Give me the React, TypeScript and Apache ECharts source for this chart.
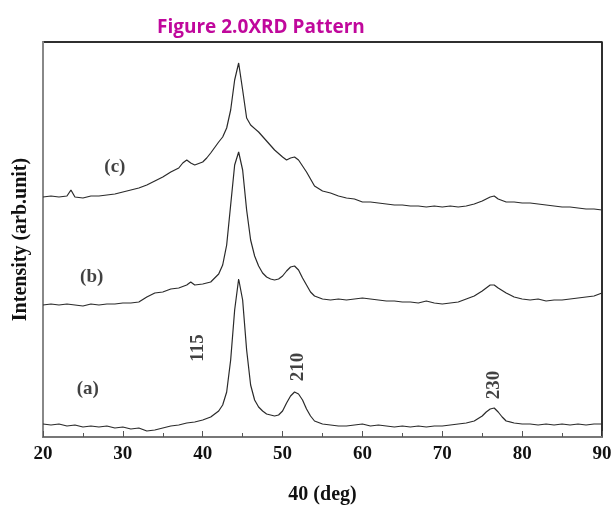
import React, { useEffect, useRef } from "react";
import * as echarts from "echarts";

const xTicks = [20, 30, 40, 50, 60, 70, 80, 90];

const seriesA: [number, number][] = [
  [20, 13], [21, 12], [22, 13], [23, 11], [24, 12], [25, 10], [26, 11], [27, 10], [28, 11], [29, 9],
  [30, 10], [31, 8], [32, 9], [33, 6], [34, 7], [35, 9], [36, 11], [37, 12], [38, 14], [39, 15],
  [40, 17], [41, 20], [42, 26], [42.5, 32], [43, 45], [43.5, 77], [44, 127], [44.5, 158], [45, 137],
  [45.5, 87], [46, 52], [46.5, 37], [47, 30], [47.5, 26], [48, 23], [48.5, 22], [49, 21], [49.5, 22],
  [50, 26], [50.5, 34], [51, 41], [51.5, 45], [52, 43], [52.5, 37], [53, 28], [53.5, 21], [54, 16],
  [55, 13], [56, 12], [57, 11], [58, 11], [59, 12], [60, 13], [61, 11], [62, 12], [63, 11], [64, 10],
  [65, 11], [66, 10], [67, 11], [68, 10], [69, 11], [70, 11], [71, 12], [72, 13], [73, 14], [74, 16],
  [75, 21], [75.5, 25], [76, 28], [76.5, 29], [77, 25], [77.5, 20], [78, 16], [79, 14], [80, 13],
  [81, 13], [82, 12], [83, 13], [84, 12], [85, 13], [86, 12], [87, 13], [88, 12], [89, 13], [90, 13],
];

const seriesB: [number, number][] = [
  [20, 132], [21, 133], [22, 132], [23, 133], [24, 132], [25, 131], [26, 133], [27, 132], [28, 133],
  [29, 133], [30, 134], [31, 134], [32, 135], [33, 140], [34, 144], [35, 145], [36, 148], [37, 149],
  [38, 152], [38.5, 155], [39, 152], [40, 153], [41, 155], [42, 163], [42.5, 172], [43, 192],
  [43.5, 232], [44, 272], [44.5, 285], [45, 267], [45.5, 227], [46, 197], [46.5, 181], [47, 171],
  [47.5, 164], [48, 160], [48.5, 158], [49, 157], [49.5, 158], [50, 161], [50.5, 166], [51, 170],
  [51.5, 171], [52, 167], [52.5, 159], [53, 152], [53.5, 145], [54, 141], [55, 138], [56, 137],
  [57, 138], [58, 137], [59, 138], [60, 139], [61, 138], [62, 137], [63, 136], [64, 136], [65, 135],
  [66, 135], [67, 134], [68, 136], [69, 134], [70, 133], [71, 134], [72, 135], [73, 138], [74, 141],
  [75, 146], [75.5, 149], [76, 152], [76.5, 152], [77, 149], [78, 144], [79, 140], [80, 138],
  [81, 137], [82, 138], [83, 136], [84, 137], [85, 137], [86, 138], [87, 139], [88, 140], [89, 141],
  [90, 144],
];

const seriesC: [number, number][] = [
  [20, 240], [21, 241], [22, 240], [23, 241], [23.5, 247], [24, 240], [25, 239], [26, 241], [27, 241],
  [28, 242], [29, 243], [30, 245], [31, 247], [32, 249], [33, 252], [34, 256], [35, 260], [36, 265],
  [37, 269], [37.5, 274], [38, 277], [38.5, 274], [39, 272], [40, 275], [40.5, 279], [41, 284],
  [42, 295], [42.5, 300], [43, 309], [43.5, 327], [44, 357], [44.5, 374], [45, 347], [45.5, 319],
  [46, 312], [47, 305], [48, 296], [49, 287], [50, 280], [50.5, 277], [51, 279], [51.5, 280],
  [52, 277], [53, 265], [54, 251], [55, 246], [56, 244], [57, 241], [58, 239], [59, 238], [60, 235],
  [61, 235], [62, 234], [63, 233], [64, 232], [65, 232], [66, 231], [67, 231], [68, 230], [69, 231],
  [70, 230], [71, 231], [72, 230], [73, 231], [74, 233], [75, 236], [75.5, 238], [76, 240],
  [76.5, 241], [77, 238], [78, 235], [79, 235], [80, 234], [81, 234], [82, 233], [83, 232], [84, 231],
  [85, 230], [86, 230], [87, 229], [88, 228], [89, 228], [90, 227],
];

const traceLabels = ["(a)", "(b)", "(c)"];
const traceLabelPos: [number, number][] = [[25.6, 50], [26.1, 162], [29, 272]];
const peakLabels = ["115", "210", "230"];
const peakLabelPos: [number, number][] = [[39.25, 89], [51.75, 70], [76.25, 52]];

const serif = "'Liberation Serif', 'DejaVu Serif', serif";

const GRID = { left: 43, right: 14, top: 42, bottom: 71 };
const W = 616;
const H = 508;

export default function App() {
  const ref = useRef<HTMLDivElement>(null);
  useEffect(() => {
    if (!ref.current) return;
    const chart = echarts.init(ref.current, null, { renderer: "svg" });
    const lineStyle = { color: "#2a2a2a", width: 1.2 };
    const right = W - GRID.right;
    const bottom = H - GRID.bottom;
    chart.setOption({
      animation: false,
      title: {
        text: "Figure 2.0XRD Pattern",
        left: 152,
        top: 11,
        textStyle: { color: "#c0089c", fontFamily: "'Open Sans', sans-serif", fontWeight: "bold", fontSize: 19 },
      },
      grid: { ...GRID, show: true, borderColor: "#222", borderWidth: 1.5 },
      graphic: [
        { type: "line", shape: { x1: GRID.left, y1: GRID.top, x2: right, y2: GRID.top }, style: { stroke: "#222", lineWidth: 1.5 } },
        { type: "line", shape: { x1: right, y1: GRID.top, x2: right, y2: bottom }, style: { stroke: "#222", lineWidth: 1.5 } },
      ],
      xAxis: {
        type: "value",
        min: 20,
        max: 90,
        interval: 10,
        name: "40 (deg)",
        nameLocation: "middle",
        nameGap: 46,
        nameTextStyle: { fontFamily: serif, fontWeight: "bold", fontSize: 20, color: "#111" },
        axisLine: { show: true, onZero: false, lineStyle: { color: "#777", width: 2 } },
        axisTick: { show: true, inside: true, length: 6, lineStyle: { color: "#555" } },
        minorTick: { show: true, splitNumber: 2, length: 4, lineStyle: { color: "#555" } },
        axisLabel: {
          fontFamily: serif, fontWeight: "bold", fontSize: 19, color: "#111", margin: 6,
          formatter: (v: number) => (xTicks.includes(v) ? String(v) : ""),
        },
        splitLine: { show: false },
      },
      yAxis: {
        type: "value",
        min: 0,
        max: 395,
        name: "Intensity (arb.unit)",
        nameLocation: "middle",
        nameGap: 14,
        nameTextStyle: { fontFamily: serif, fontWeight: "bold", fontSize: 20, color: "#111" },
        axisLine: { show: true, onZero: false, lineStyle: { color: "#888", width: 2 } },
        axisTick: { show: false },
        axisLabel: { show: false },
        splitLine: { show: false },
      },
      series: [
        { name: "(a)", type: "line", data: seriesA, showSymbol: false, symbol: "none", lineStyle },
        { name: "(b)", type: "line", data: seriesB, showSymbol: false, symbol: "none", lineStyle },
        { name: "(c)", type: "line", data: seriesC, showSymbol: false, symbol: "none", lineStyle },
        {
          name: "traceLabels",
          type: "scatter",
          symbolSize: 1,
          itemStyle: { color: "rgba(0,0,0,0)" },
          data: traceLabelPos.map((p, i) => ({ value: p, name: traceLabels[i] })),
          label: {
            show: true, position: "inside", formatter: "{b}",
            fontFamily: serif, fontWeight: "bold", fontSize: 19, color: "#111",
          },
        },
        {
          name: "peakLabels",
          type: "scatter",
          symbolSize: 1,
          itemStyle: { color: "rgba(0,0,0,0)" },
          data: peakLabelPos.map((p, i) => ({ value: p, name: peakLabels[i] })),
          label: {
            show: true, position: "inside", formatter: "{b}", rotate: 90,
            fontFamily: serif, fontWeight: "bold", fontSize: 19, color: "#111",
          },
        },
      ],
    });
    return () => chart.dispose();
  }, []);
  return <div ref={ref} style={{ position: "fixed", left: 0, top: 0, width: W, height: H }} />;
}
